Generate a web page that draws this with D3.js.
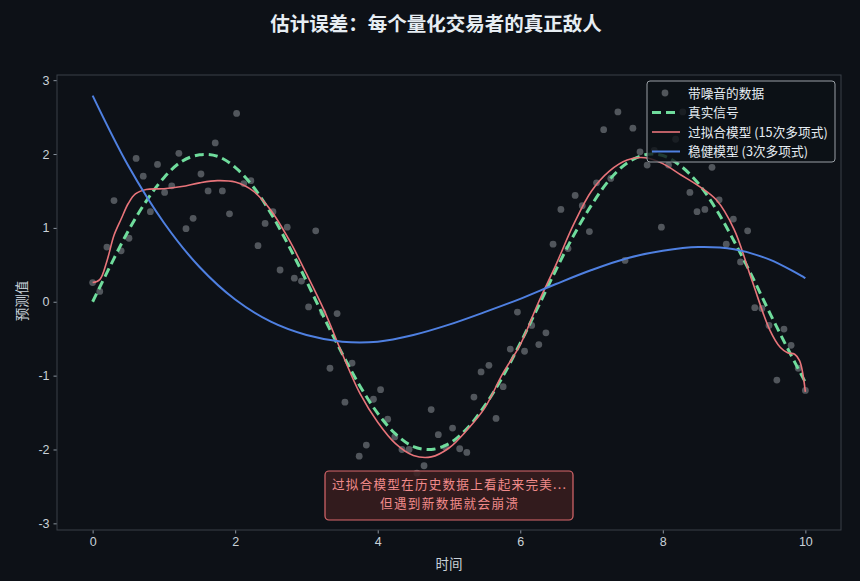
<!DOCTYPE html>
<html>
<head>
<meta charset="utf-8">
<script src="https://cdn.jsdelivr.net/npm/d3@7"></script>
<style>
  body { margin: 0; background: #0d1117; }
  svg { display: block; font-family: "Noto Sans CJK SC", "Noto Sans", sans-serif; }
</style>
</head>
<body>
<svg id="chart"></svg>
<script>
const noisyX = [0.00,0.10,0.20,0.30,0.40,0.51,0.61,0.71,0.81,0.91,1.01,1.11,1.21,1.31,1.41,1.52,1.62,1.72,1.82,1.92,
  2.02,2.12,2.22,2.32,2.42,2.53,2.63,2.73,2.83,2.93,3.03,3.13,3.23,3.33,3.43,3.54,3.64,3.74,3.84,3.94,
  4.04,4.14,4.24,4.34,4.44,4.55,4.65,4.75,4.85,4.95,5.05,5.15,5.25,5.35,5.45,5.56,5.66,5.76,5.86,5.96,
  6.06,6.16,6.26,6.36,6.46,6.57,6.67,6.77,6.87,6.97,7.07,7.17,7.27,7.37,7.47,7.58,7.68,7.78,7.88,7.98,
  8.08,8.18,8.28,8.38,8.48,8.59,8.69,8.79,8.89,8.99,9.09,9.19,9.29,9.39,9.49,9.60,9.70,9.80,9.90,10.00];
const noisyY = [0.26,0.14,0.74,1.37,0.69,0.86,1.94,1.70,1.22,1.86,1.48,1.57,2.01,0.99,1.13,1.73,1.50,2.15,1.50,1.19,
  2.55,1.60,1.64,0.76,1.06,1.22,0.43,1.01,0.32,0.28,-0.07,0.96,-0.15,-0.90,-0.16,-1.36,-0.83,-2.09,-1.94,-1.32,
  -1.19,-1.59,-1.83,-2.00,-2.00,-2.32,-2.22,-1.46,-1.80,-1.97,-1.71,-1.99,-2.04,-1.29,-0.95,-0.86,-1.58,-1.15,-0.64,-0.14,
  -0.67,-0.32,-0.58,-0.42,0.78,1.25,0.72,1.44,1.30,0.95,1.61,2.33,1.67,2.57,0.56,2.35,2.03,1.85,2.05,1.01,
  1.85,2.20,2.57,1.48,1.22,1.25,1.82,1.38,0.78,1.12,0.54,0.96,-0.08,-0.09,-0.32,-1.06,-0.37,-0.59,-0.90,-1.20];

// true signal, sampled every 0.25
const trueX = d3.range(0, 10.001, 0.25);
const trueY = [0.00,0.49,0.96,1.36,1.68,1.90,1.99,1.97,1.82,1.56,1.20,0.76,0.28,-0.22,-0.70,-1.14,-1.51,-1.79,-1.96,-2.00,
  -1.92,-1.72,-1.41,-1.02,-0.56,-0.07,0.43,0.90,1.31,1.65,1.88,1.99,1.98,1.84,1.60,1.25,0.82,0.35,-0.15,-0.63,-1.09];

// overfit model (degree 15)
const overX = [0,0.1,0.2,0.3,0.4,0.5,0.6,0.75,1.0,1.25,1.5,1.75,2.0,2.25,2.5,2.75,3.0,3.25,3.5,3.75,4.0,4.25,4.5,4.75,
  5.0,5.25,5.5,5.75,6.0,6.25,6.5,6.75,7.0,7.25,7.5,7.75,8.0,8.25,8.5,8.75,9.0,9.25,9.5,9.65,9.75,9.85,9.92,10.0];
const overY = [0.26,0.30,0.55,0.90,1.12,1.33,1.46,1.52,1.53,1.56,1.61,1.64,1.62,1.50,1.24,0.85,0.38,-0.12,-0.70,-1.24,
  -1.63,-1.92,-2.08,-2.10,-1.98,-1.74,-1.44,-0.98,-0.58,-0.02,0.50,1.05,1.50,1.77,1.92,1.95,1.87,1.72,1.57,1.38,0.98,0.29,-0.38,-0.62,-0.69,-0.71,-0.80,-1.22];

// robust model (degree 3), sampled every 0.5
const robX = d3.range(0, 10.001, 0.5);
const robY = [2.79,1.84,1.07,0.47,0.03,-0.27,-0.45,-0.54,-0.54,-0.45,-0.31,-0.14,0.04,0.24,0.43,0.59,0.69,0.74,0.71,0.57,0.32];

const xTicks = [0, 2, 4, 6, 8, 10];
const yTicks = [-3, -2, -1, 0, 1, 2, 3];
const legendLabels = ["带噪音的数据", "真实信号", "过拟合模型 (15次多项式)", "稳健模型 (3次多项式)"];
const noteLines = ["过拟合模型在历史数据上看起来完美...", "但遇到新数据就会崩溃"];

const W = 860, H = 581;
const margin = { top: 75, right: 19, bottom: 51, left: 57 };
const bg = "#0d1117", axisCol = "#3a4048", textCol = "#c9d1d9";
const cGreen = "#6fdc9c", cRed = "#e8747a", cBlue = "#4f80e1", cDot = "#8b8f96";

const svg = d3.select("#chart").attr("width", W).attr("height", H);
svg.append("rect").attr("width", W).attr("height", H).attr("fill", bg);

const x = d3.scaleLinear().domain([-0.5, 10.5]).range([margin.left, W - margin.right]);
const y = d3.scaleLinear().domain([-3.09, 3.07]).range([H - margin.bottom, margin.top]);

// title
svg.append("text").attr("x", 436).attr("y", 31).attr("text-anchor", "middle")
  .attr("fill", "#e6edf3").attr("font-size", 19.5).attr("font-weight", "bold")
  .text("估计误差：每个量化交易者的真正敌人");

// axes
const xAxis = svg.append("g").attr("transform", `translate(0,${H - margin.bottom})`)
  .call(d3.axisBottom(x).tickValues(xTicks).tickSize(3.5).tickPadding(4));
const yAxis = svg.append("g").attr("transform", `translate(${margin.left},0)`)
  .call(d3.axisLeft(y).tickValues(yTicks).tickSize(3.5).tickPadding(4).tickFormat(d => d < 0 ? "-" + Math.abs(d) : d));
[xAxis, yAxis].forEach(g => {
  g.select(".domain").remove();
  g.selectAll("line").attr("stroke", "#8b949e");
  g.selectAll("text").attr("fill", textCol).attr("font-size", 12.5);
});

svg.append("rect").attr("x", margin.left).attr("y", margin.top)
  .attr("width", W - margin.left - margin.right).attr("height", H - margin.top - margin.bottom)
  .attr("fill", "none").attr("stroke", axisCol).attr("stroke-width", 1);

// axis labels
svg.append("text").attr("x", 449).attr("y", 569).attr("text-anchor", "middle")
  .attr("fill", textCol).attr("font-size", 13.5).text("时间");
svg.append("text").attr("transform", "translate(27,301) rotate(-90)").attr("text-anchor", "middle")
  .attr("fill", textCol).attr("font-size", 13.5).text("预测值");

const plot = svg.append("g");

// scatter
plot.selectAll("circle.noisy").data(noisyX).join("circle")
  .attr("class", "noisy")
  .attr("cx", d => x(d)).attr("cy", (d, i) => y(noisyY[i]))
  .attr("r", 3.4).attr("fill", cDot).attr("fill-opacity", 0.55);

const line = d3.line().x(d => x(d[0])).y(d => y(d[1])).curve(d3.curveCatmullRom);

plot.append("path").datum(d3.zip(trueX, trueY)).attr("d", line)
  .attr("fill", "none").attr("stroke", cGreen).attr("stroke-width", 3).attr("stroke-dasharray", "9,5");
plot.append("path").datum(d3.zip(overX, overY)).attr("d", line)
  .attr("fill", "none").attr("stroke", cRed).attr("stroke-width", 1.6);
plot.append("path").datum(d3.zip(robX, robY)).attr("d", line)
  .attr("fill", "none").attr("stroke", cBlue).attr("stroke-width", 2);

// annotation box
const note = svg.append("g");
note.append("rect").attr("x", 325).attr("y", 471).attr("width", 248).attr("height", 49).attr("rx", 4)
  .attr("fill", "#3a1d1e").attr("fill-opacity", 0.85).attr("stroke", "#d9686c").attr("stroke-width", 1.2);
note.selectAll("text.note").data(noteLines).join("text")
  .attr("class", "note")
  .attr("x", 449).attr("y", (d, i) => 489 + i * 18.8).attr("text-anchor", "middle")
  .attr("fill", "#f08a8a").attr("font-size", 12.6)
  .attr("textLength", (d, i) => i === 0 ? 234 : 138).attr("lengthAdjust", "spacing")
  .text(d => d);

// legend
const lg = svg.append("g").attr("transform", "translate(647,81)");
lg.append("rect").attr("width", 188).attr("height", 81).attr("rx", 3)
  .attr("fill", bg).attr("fill-opacity", 0.8).attr("stroke", "#9aa0a6").attr("stroke-width", 1);
const rows = lg.selectAll("g.row").data(legendLabels).join("g")
  .attr("class", "row").attr("transform", (d, i) => `translate(0,${12 + i * 19.5})`);
rows.append("text").attr("x", 41).attr("y", 4.5).attr("fill", "#e6edf3").attr("font-size", 12.7).text(d => d);
rows.filter((d, i) => i === 0).append("circle").attr("cx", 18).attr("cy", 0).attr("r", 3.4)
  .attr("fill", cDot).attr("fill-opacity", 0.55);
const swatch = [null, { c: cGreen, w: 3, dash: "9,5" }, { c: cRed, w: 1.6 }, { c: cBlue, w: 2 }];
rows.filter((d, i) => i > 0).append("line").attr("x1", 5).attr("x2", 33).attr("y1", 0).attr("y2", 0)
  .attr("stroke", (d, i) => swatch[i + 1].c).attr("stroke-width", (d, i) => swatch[i + 1].w)
  .attr("stroke-dasharray", (d, i) => swatch[i + 1].dash || null);
</script>
</body>
</html>
